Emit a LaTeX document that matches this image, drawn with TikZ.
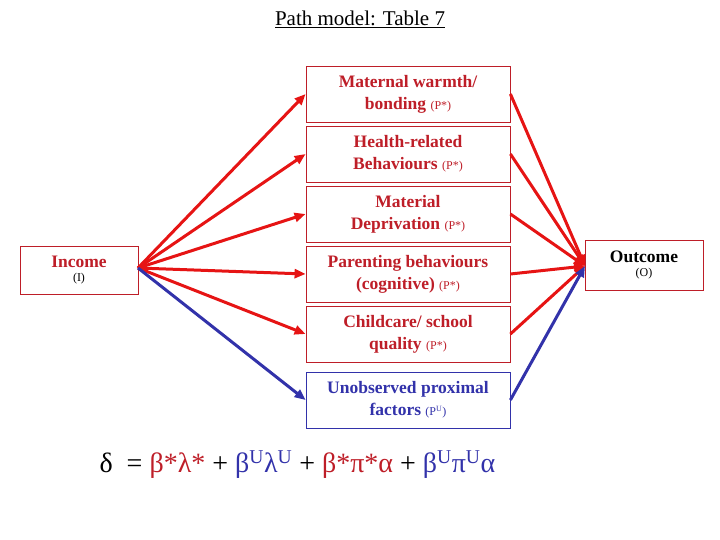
\documentclass[tikz,border=0pt]{standalone}
\usepackage{fontspec}
\setmainfont{Liberation Serif}
\usetikzlibrary{arrows.meta}
\definecolor{dred}{RGB}{190,30,40}
\definecolor{bred}{RGB}{230,20,20}
\definecolor{dblue}{RGB}{50,50,170}
\newcommand{\smp}[1]{{\fontsize{12}{13}\selectfont\mdseries #1}}
\begin{document}
\begin{tikzpicture}[x=1pt,y=-1pt,
  box/.style={draw=dred,line width=0.8pt,minimum width=204pt,minimum height=56pt,align=center,font=\bfseries\fontsize{17.5}{22}\selectfont,text=dred,inner sep=1pt},
  rarr/.style={draw=bred,line width=3pt,-{Triangle[length=11pt,width=9pt]}},
  barr/.style={draw=dblue,line width=3pt,-{Triangle[length=11pt,width=9pt]}}]
\useasboundingbox (0,0) rectangle (720,540);
\node[font=\fontsize{21}{24}\selectfont] (title) at (360,19) {\underline{Path model: Table 7}};
\node[box] (b1) at (408,94) {Maternal warmth/\\bonding \smp{(P*)}};
\node[box] (b2) at (408,154) {Health-related\\Behaviours \smp{(P*)}};
\node[box] (b3) at (408,214) {Material\\Deprivation \smp{(P*)}};
\node[box] (b4) at (408,274) {Parenting behaviours\\(cognitive) \smp{(P*)}};
\node[box] (b5) at (408,334) {Childcare/ school\\quality \smp{(P*)}};
\node[box,draw=dblue,text=dblue] (b6) at (408,400) {Unobserved proximal\\factors \smp{(P\textsuperscript{U})}};
\node[draw=dred,line width=0.8pt,minimum width=118pt,minimum height=48pt,align=center,text=dred,inner sep=1pt] (inc) at (79,270) {{\bfseries\fontsize{17.5}{20}\selectfont Income}\\[2pt]{\fontsize{12}{13}\selectfont\color{black}(I)}};
\node[draw=dred,line width=0.8pt,minimum width=118pt,minimum height=50pt,align=center,inner sep=1pt] (out) at (644,265) {{\bfseries\fontsize{17.5}{20}\selectfont Outcome}\\[2pt]{\fontsize{12}{13}\selectfont (O)}};
\coordinate (src) at (138,268);
\coordinate (dst) at (585,266);
\foreach \b in {b1,b2,b3,b4,b5} {
  \draw[rarr] (src) -- (\b.west);
  \draw[rarr] (\b.east) -- (dst);
}
\draw[barr] (src) -- (b6.west);
\draw[barr] (b6.east) -- (dst);
\node[anchor=west,font=\fontsize{28}{30}\selectfont] (eq) at (96,465) {δ \ = \textcolor{dred}{β*λ*} + \textcolor{dblue}{β\textsuperscript{U}λ\textsuperscript{U}} + \textcolor{dred}{β*π*α} + \textcolor{dblue}{β\textsuperscript{U}π\textsuperscript{U}α}};
\end{tikzpicture}
\end{document}
